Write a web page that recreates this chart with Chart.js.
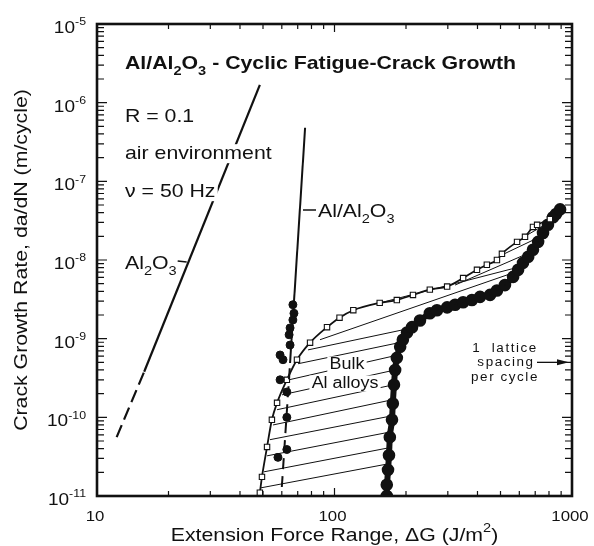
<!DOCTYPE html>
<html>
<head>
<meta charset="utf-8">
<script src="https://cdn.jsdelivr.net/npm/chart.js@4.4.1/dist/chart.umd.min.js"></script>
<style>
  body { margin: 0; background: #fff; }
  canvas { display: block; }
</style>
</head>
<body>
<canvas id="fcg" width="594" height="546"></canvas>
<script>
  // axis decades
  const xDecades = [10, 100, 1000];
  const yExponents = [-11, -10, -9, -8, -7, -6, -5];

  // monolithic Al2O3: fitted line, dashed where extrapolated
  const al2o3Solid = [[15.8, 3.8e-10], [48.5, 1.68e-6]];
  const al2o3Dashed = [[12.1, 5.6e-11], [15.8, 3.8e-10]];

  // Al/Al2O3 composite: fitted line and measured rates
  const compositeSolid = [[65, 4.9e-10], [75.2, 4.8e-7]];
  const compositeDashed = [[60, 1.3e-11], [65, 4.9e-10]];
  const compositePoints = [
    [66.8, 2.7e-9], [67.5, 2.1e-9], [66.8, 1.73e-9], [65, 1.37e-9], [64.4, 1.12e-9],
    [65, 8.3e-10], [59, 6.2e-10], [60.7, 5.4e-10], [59, 3.0e-10], [63, 2.1e-10],
    [63, 1.0e-10], [63, 3.9e-11], [57.8, 3.1e-11]
  ];

  // bulk Al alloys scatter band: upper (open squares) and lower (filled) bounds
  const bulkUpper = [
    [48.5, 1.1e-11], [49.5, 1.75e-11], [52, 4.2e-11], [54.5, 9.3e-11], [57.3, 1.53e-10],
    [63, 3.0e-10], [69.5, 5.4e-10], [78.9, 8.9e-10], [93, 1.4e-9], [105, 1.85e-9],
    [120, 2.3e-9], [155, 2.85e-9], [183, 3.1e-9], [214, 3.6e-9], [252, 4.2e-9],
    [298, 4.6e-9], [348, 5.9e-9], [398, 7.5e-9], [438, 8.7e-9], [483, 1.0e-8],
    [507, 1.2e-8], [587, 1.7e-8], [634, 1.97e-8], [685, 2.63e-8], [713, 2.8e-8],
    [807, 3.3e-8]
  ];
  const bulkLower = [
    [166, 1.0e-11], [166, 1.39e-11], [168, 2.15e-11], [169.6, 3.3e-11], [171, 5.6e-11],
    [174.6, 9.3e-11], [176, 1.5e-10], [178, 2.6e-10], [180, 4.0e-10], [183, 5.7e-10],
    [189, 7.9e-10], [194, 9.7e-10], [202, 1.2e-9], [212, 1.4e-9], [229, 1.7e-9],
    [252, 2.1e-9], [270, 2.3e-9], [298, 2.5e-9], [322, 2.7e-9], [348, 2.9e-9],
    [379, 3.1e-9], [410, 3.4e-9], [452, 3.6e-9], [483, 4.1e-9], [522, 4.8e-9],
    [565, 6.1e-9], [593, 7.5e-9], [622, 9.2e-9], [654, 1.1e-8], [685, 1.35e-8],
    [720, 1.7e-8], [755, 2.2e-8], [792, 2.8e-8], [832, 3.5e-8], [857, 3.85e-8],
    [891, 4.4e-8]
  ];
  const bulkHatch = [
    [[49.0, 1.27e-11], [168, 2.56e-11]],
    [[50.5, 2.03e-11], [169.6, 4.1e-11]],
    [[52.0, 3.24e-11], [171, 6.5e-11]],
    [[53.5, 5.2e-11], [173, 1.04e-10]],
    [[55.1, 8.0e-11], [174.6, 1.67e-10]],
    [[57.3, 1.25e-10], [178, 2.6e-10]],
    [[60.1, 1.93e-10], [179.8, 4.0e-10]],
    [[64.3, 3.0e-10], [185, 6.2e-10]],
    [[70.2, 4.8e-10], [194, 9.1e-10]],
    [[77.4, 7.2e-10], [212, 1.37e-9]],
    [[86.9, 9.7e-10], [548, 6.65e-9]],
    [[155.5, 2.85e-9], [604, 8.2e-9]],
    [[321.7, 4.8e-9], [646.5, 1.2e-8]],
    [[497.7, 1.13e-8], [733, 1.97e-8]],
    [[634, 2.0e-8], [792, 2.96e-8]]
  ];

  // crack advance of one lattice spacing per cycle (m/cycle)
  const latticeSpacing = 5e-10;

  const INK = '#111';
  const FONT = '"Liberation Sans", Arial, Helvetica, sans-serif';
  const SX = 1.12; // the lettering is set a little wide

  const xy = (pts) => pts.map(([x, y]) => ({ x, y }));
  const line = (pts, extra) => Object.assign({
    data: xy(pts), showLine: true, pointRadius: 0, borderColor: INK,
    borderWidth: 2, fill: false, tension: 0
  }, extra);

  const datasets = [
    { data: xy(compositePoints), pointRadius: 4, pointBackgroundColor: INK, pointBorderColor: INK, showLine: false },
    line(compositeSolid, { borderWidth: 2 }),
    line(compositeDashed, { borderWidth: 2, borderDash: [11, 7] }),
    line(al2o3Solid, { borderWidth: 2.2 }),
    line(al2o3Dashed, { borderWidth: 2.2, borderDash: [13, 6] }),
    line(bulkUpper, { borderWidth: 1.8, cubicInterpolationMode: 'monotone',
      pointRadius: 3.8, pointStyle: 'rect', pointBackgroundColor: '#fff', pointBorderColor: INK, pointBorderWidth: 1.1 }),
    line(bulkLower, { borderWidth: 6, cubicInterpolationMode: 'monotone',
      pointRadius: 3.3, pointBackgroundColor: INK, pointBorderColor: INK }),
    ...bulkHatch.map(seg => line(seg, { borderWidth: 1 }))
  ];

  // lettering with sub/superscripts; parts are strings or [text, 'sub'|'sup']
  function drawText(ctx, x, y, parts, o) {
    const size = o.size, weight = o.weight || 'normal';
    parts = parts.map(p => typeof p === 'string' ? [p, ''] : p);
    ctx.save();
    ctx.translate(x, y);
    if (o.rotate) ctx.rotate(o.rotate);
    ctx.scale(SX, 1);
    ctx.textBaseline = 'alphabetic';
    ctx.letterSpacing = (o.spacing || 0) + 'px';
    const fontFor = (k) => `${weight} ${k ? Math.round(size * 0.66) : size}px ${FONT}`;
    const widths = parts.map(p => { ctx.font = fontFor(p[1]); return ctx.measureText(p[0]).width; });
    const total = widths.reduce((a, b) => a + b, 0);
    let cx = o.align === 'center' ? -total / 2 : o.align === 'right' ? -total : 0;
    if (o.knockout) {
      ctx.fillStyle = '#fff';
      ctx.fillRect(cx - 2, -size * 0.78, total + 4, size * 1.0);
    }
    ctx.fillStyle = INK;
    parts.forEach((p, i) => {
      ctx.font = fontFor(p[1]);
      const dy = p[1] === 'sub' ? size * 0.3 : p[1] === 'sup' ? -size * 0.45 : 0;
      ctx.fillText(p[0], cx, dy);
      cx += widths[i];
    });
    ctx.restore();
    return { left: x + (o.align === 'center' ? -total / 2 : o.align === 'right' ? -total : 0) * SX, width: total * SX };
  }

  function strokeLine(ctx, x1, y1, x2, y2, w) {
    ctx.save();
    ctx.strokeStyle = INK;
    ctx.lineWidth = w;
    ctx.beginPath();
    ctx.moveTo(x1, y1);
    ctx.lineTo(x2, y2);
    ctx.stroke();
    ctx.restore();
  }

  const figure = {
    id: 'figure',
    afterDatasetsDraw(chart) {
      const ctx = chart.ctx;
      const xs = chart.scales.x, ys = chart.scales.y;

      drawText(ctx, 125, 69, ['Al/Al', ['2', 'sub'], 'O', ['3', 'sub'], ' - Cyclic Fatigue-Crack Growth'], { size: 19, weight: 'bold' });
      drawText(ctx, 125, 122, ['R = 0.1'], { size: 19, knockout: true });
      drawText(ctx, 125, 159, ['air environment'], { size: 19, knockout: true });
      drawText(ctx, 125, 197, ['\u03bd = 50 Hz'], { size: 19, knockout: true });

      const a = drawText(ctx, 125, 269, ['Al', ['2', 'sub'], 'O', ['3', 'sub']], { size: 19 });
      strokeLine(ctx, a.left + a.width + 1, 261, a.left + a.width + 10, 262, 1.5);

      strokeLine(ctx, 303, 210, 316, 210, 1.5);
      drawText(ctx, 318, 217, ['Al/Al', ['2', 'sub'], 'O', ['3', 'sub']], { size: 19 });

      drawText(ctx, 347, 369, ['Bulk'], { size: 16, align: 'center', knockout: true });
      drawText(ctx, 345, 388, ['Al alloys'], { size: 16, align: 'center', knockout: true });

      const ly = ys.getPixelForValue(latticeSpacing);
      drawText(ctx, 505, ly - 10, ['1  lattice'], { size: 12, align: 'center', spacing: 1.4 });
      drawText(ctx, 506, ly + 4, ['spacing'], { size: 12, align: 'center', spacing: 1.4 });
      drawText(ctx, 505, ly + 19, ['per cycle'], { size: 12, align: 'center', spacing: 1.4 });
      const tip = xs.getPixelForValue(1000) - 3;
      strokeLine(ctx, 537, ly, tip - 8, ly, 1.3);
      ctx.save();
      ctx.fillStyle = INK;
      ctx.beginPath();
      ctx.moveTo(tip, ly);
      ctx.lineTo(tip - 12, ly - 3);
      ctx.lineTo(tip - 12, ly + 3);
      ctx.closePath();
      ctx.fill();
      ctx.restore();
    },
    afterDraw(chart) {
      const ctx = chart.ctx;
      const { left, right, top, bottom } = chart.chartArea;
      const xs = chart.scales.x, ys = chart.scales.y;

      // log ticks on all four sides, pointing inward
      ctx.save();
      ctx.strokeStyle = INK;
      ctx.lineWidth = 1.2;
      ctx.beginPath();
      for (let e = yExponents[0]; e < yExponents[yExponents.length - 1]; e++) {
        for (let k = 1; k <= 9; k++) {
          const py = ys.getPixelForValue(k * Math.pow(10, e));
          const len = k === 1 ? 10 : 7;
          ctx.moveTo(left, py); ctx.lineTo(left + len, py);
          ctx.moveTo(right, py); ctx.lineTo(right - len, py);
        }
      }
      for (let d = xDecades[0]; d < xDecades[xDecades.length - 1]; d *= 10) {
        for (let k = 1; k <= 9; k++) {
          const px = xs.getPixelForValue(k * d);
          const len = k === 1 ? 8 : 5;
          ctx.moveTo(px, bottom); ctx.lineTo(px, bottom - len);
          ctx.moveTo(px, top); ctx.lineTo(px, top + len);
        }
      }
      ctx.stroke();
      ctx.lineWidth = 2.6;
      ctx.strokeRect(left, top, right - left, bottom - top);
      ctx.restore();

      // tick labels
      yExponents.forEach(e => {
        const py = ys.getPixelForValue(Math.pow(10, e));
        drawText(ctx, 86, py + 9, ['10', [String(e), 'sup']], { size: 17, align: 'right' });
      });
      xDecades.forEach(v => {
        drawText(ctx, xs.getPixelForValue(v) - 2, 521, [String(v)], { size: 15, align: 'center' });
      });

      // axis titles
      drawText(ctx, (left + right) / 2, 541, ['Extension Force Range, \u0394G (J/m', ['2', 'sup'], ')'], { size: 19, align: 'center' });
      drawText(ctx, 27, (top + bottom) / 2, ['Crack Growth Rate, da/dN (m/cycle)'], { size: 19, align: 'center', rotate: -Math.PI / 2 });
    }
  };

  new Chart(document.getElementById('fcg').getContext('2d'), {
    type: 'scatter',
    data: { datasets },
    options: {
      responsive: false,
      animation: false,
      layout: { padding: { left: 97, right: 22, top: 24, bottom: 50 } },
      plugins: { legend: { display: false }, tooltip: { enabled: false } },
      scales: {
        x: { type: 'logarithmic', min: 10, max: 1000, display: false },
        y: { type: 'logarithmic', min: 1e-11, max: 1e-5, display: false }
      }
    },
    plugins: [figure]
  });
</script>
</body>
</html>
